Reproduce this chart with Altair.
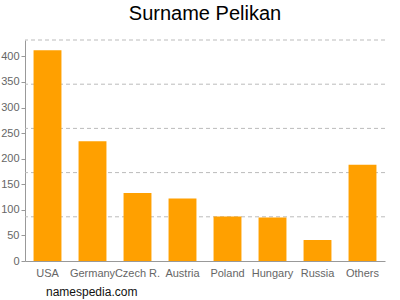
import altair as alt
import pandas as pd

countries = ["USA", "Germany", "Czech R.", "Austria", "Poland", "Hungary", "Russia", "Others"]
counts = [412, 234, 133, 122, 87, 85, 41, 188]
y_max = 432
grid_values = [86.4, 172.8, 259.2, 345.6, 432]
y_ticks = [0, 50, 100, 150, 200, 250, 300, 350, 400]

df = pd.DataFrame({"country": countries, "count": counts})
grid_df = pd.DataFrame({"count": grid_values})
foot_df = pd.DataFrame({"t": ["namespedia.com"]})

FONT = "Liberation Sans"

y_axis = alt.Axis(values=y_ticks, grid=False, labelColor="#666666", labelFontSize=11,
                  labelFont=FONT, domainColor="#999999", tickColor="#999999",
                  tickSize=4, labelPadding=2)
y_scale = alt.Scale(domain=[0, y_max], nice=False)

grid = alt.Chart(grid_df).mark_rule(color="#bbbbbb", strokeDash=[4, 3], strokeWidth=1).encode(
    y=alt.Y("count:Q", scale=y_scale, axis=y_axis, title=None)
)

bars = alt.Chart(df).mark_bar(color="#ffa000").encode(
    x=alt.X("country:N", sort=countries, title=None,
            scale=alt.Scale(paddingInner=0.38, paddingOuter=0.19),
            axis=alt.Axis(labelAngle=0, labelColor="#666666", labelFontSize=11, labelFont=FONT,
                          domainColor="#999999", ticks=False, labelPadding=6)),
    y=alt.Y("count:Q", scale=y_scale, title=None, axis=y_axis),
)

foot = alt.Chart(foot_df).mark_text(align="left", baseline="middle", fontSize=12, font=FONT,
                                    color="#111111").encode(
    text="t:N", x=alt.value(21), y=alt.value(252)
)

chart = alt.layer(grid, bars, foot).properties(
    width=360, height=221,
    title=alt.TitleParams("Surname Pelikan", fontSize=20, font=FONT, fontWeight="normal",
                          color="#000000", anchor="middle", offset=16),
    autosize=alt.AutoSizeParams(type="none"),
    padding={"left": 25, "top": 40, "right": 15, "bottom": 39},
).configure_view(stroke=None)

chart.save("out.html", embed_options={"renderer": "svg", "actions": False})
